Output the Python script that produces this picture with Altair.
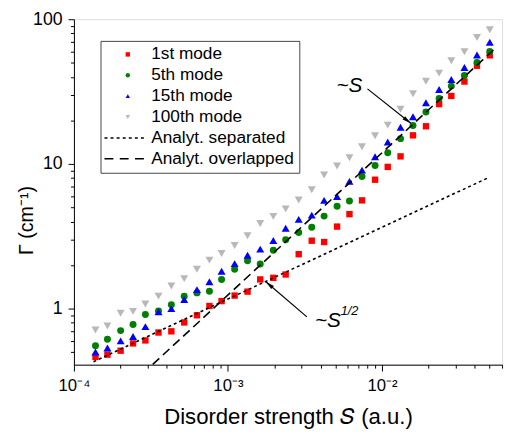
import altair as alt
import pandas as pd

# ---------------- data ----------------
S = [1.38e-4, 1.65e-4, 2.01e-4, 2.42e-4, 2.91e-4, 3.54e-4, 4.29e-4, 5.20e-4,
     6.29e-4, 7.58e-4, 9.09e-4, 1.105e-3, 1.34e-3, 1.62e-3, 1.97e-3, 2.37e-3,
     2.88e-3, 3.50e-3, 4.21e-3, 5.11e-3, 6.15e-3, 7.42e-3, 9.02e-3, 1.09e-2,
     1.32e-2, 1.59e-2, 1.93e-2, 2.35e-2, 2.82e-2, 3.43e-2, 4.14e-2, 5.01e-2]

mode1 = [0.464, 0.481, 0.512, 0.575, 0.603, 0.684, 0.697, 0.803, 0.900, 1.043,
         1.128, 1.231, 1.311, 1.592, 1.633, 1.722, 2.378, 2.948, 2.887, 3.69,
         4.50, 5.60, 7.78, 9.54, 11.28, 15.76, 18.21, 25.9, 29.5, 37.1, 47.7, 56.3]
mode5 = [0.554, 0.615, 0.705, 0.778, 0.910, 0.965, 1.065, 1.220, 1.285, 1.319,
         1.592, 1.871, 2.145, 2.033, 2.532, 2.994, 3.357, 3.653, 4.36, 5.10,
         5.54, 8.19, 9.74, 11.94, 14.96, 18.41, 22.84, 28.3, 34.5, 40.8, 50.2, 59.9]
mode15 = [0.502, 0.534, 0.599, 0.642, 0.751, 0.950, 1.0, 1.157, 1.353, 1.533,
          1.813, 2.047, 2.342, 2.579, 2.961, 3.597, 4.14, 4.43, 5.60, 5.96,
          7.58, 9.06, 11.21, 14.18, 17.93, 21.2, 26.5, 32.7, 38.3, 46.4, 56.6, 69.4]
mode100 = [0.712, 0.758, 0.929, 0.958, 1.076, 1.220, 1.434, 1.613, 1.871, 2.165,
           2.404, 2.733, 3.19, 3.88, 4.34, 4.89, 5.64, 6.63, 8.39, 9.69,
           11.04, 13.15, 15.68, 18.54, 23.85, 30.55, 37.3, 42.4, 51.6, 59.6, 74.7, 84.6]

series_names = ["1st mode", "5th mode", "15th mode", "100th mode",
                "Analyt. separated", "Analyt. overlapped"]

# analytical curves (end points of straight lines in log-log)
sep_S = [1.34e-4, 0.0495]
sep_G = [0.43, 8.07]
ovl_S = [3.25e-4, 0.0533]
ovl_G = [0.412, 61.8]

# annotations
arrow_id = ["a", "a", "b", "b"]
arrow_S = [8.05e-3, 1.539e-2, 3.254e-3, 1.762e-3]
arrow_G = [33.0, 19.1, 0.878, 1.534]
head_S = [1.539e-2, 1.762e-3]
head_G = [19.1, 1.534]
head_angle = [128.5, 310.5]

label_big_S = [5.06e-3, 3.677e-3]
label_big_G = [31.4, 0.751]
label_big_text = ["~S", "~S"]
label_sup_S = [5.39e-3]
label_sup_G = [0.910]
label_sup_text = ["1/2"]

# ---------------- styling ----------------
FONT = "Liberation Sans"
colors = ["#ff0000", "#008000", "#0000ff", "#b8b8b8", "#000000", "#000000"]


def bars_path(starts, length, half_h=0.34):
    return " ".join(
        f"M{x:.2f},{-half_h:.2f}h{length:.2f}v{2 * half_h:.2f}h{-length:.2f}Z"
        for x in starts)


dotted_path = bars_path([-10.6 + k * 2.76 for k in range(7)], 1.34)
dashed_path = bars_path([-10.6, -3.66, 3.28], 4.02)
shapes = ["square", "circle", "triangle-up", "triangle-down", dotted_path, dashed_path]
arrow_head = "M0,0L0.7,3L-0.7,3Z"

color_scale = alt.Scale(domain=series_names, range=colors)
shape_scale = alt.Scale(domain=series_names, range=shapes)

legend = alt.Legend(orient="none", legendX=27, legendY=22, title=None,
                    symbolSize=20, symbolStrokeWidth=0, labelFont=FONT,
                    labelFontSize=17.5, labelColor="black", padding=5,
                    rowPadding=2.2, symbolOffset=14, labelOffset=15,
                    strokeColor="#444444", fillColor="white", labelLimit=400)

x_ticks = [k * 10.0 ** e for e in (-4, -3, -2) for k in range(1, 10) if k * 10.0 ** e <= 0.0602]
y_ticks = [k * 10.0 ** e for e in (-1, 0, 1) for k in range(1, 10) if k * 10.0 ** e >= 0.41] + [100]

x_major = ("abs(datum.value-0.0001)<1e-9 || abs(datum.value-0.001)<1e-8 || "
           "abs(datum.value-0.01)<1e-7")
y_major = "abs(datum.value-1)<1e-6 || abs(datum.value-10)<1e-5 || abs(datum.value-100)<1e-4"

x_enc = alt.X("S:Q",
              scale=alt.Scale(type="log", domain=[1e-4, 0.0602], nice=False),
              axis=alt.Axis(values=x_ticks, grid=False, labelOverlap=False, labelFlush=False,
                            labelExpr=("abs(datum.value-0.0001)<1e-9 ? '10⁻⁴' : "
                                       "abs(datum.value-0.001)<1e-8 ? '10⁻³' : "
                                       "abs(datum.value-0.01)<1e-7 ? '10⁻²' : ''"),
                            tickSize={"condition": {"test": x_major, "value": 6.5}, "value": 3.5},
                            tickColor="black", domainColor="black", tickWidth=1, domainWidth=1,
                            labelFont=FONT, labelFontSize=17, labelColor="black",
                            labelPadding=7,
                            title="Disorder strength 𝑆 (a.u.)", titleFont=FONT,
                            titleFontSize=22.5, titleFontWeight="normal", titleColor="black",
                            titleY=59.5, titleBaseline="alphabetic"))
y_enc = alt.Y("G:Q",
              scale=alt.Scale(type="log", domain=[0.41, 100], nice=False),
              axis=alt.Axis(values=y_ticks, grid=False, labelOverlap=False, labelFlush=False,
                            labelExpr=("abs(datum.value-1)<1e-6 ? '1' : "
                                       "abs(datum.value-10)<1e-5 ? '10' : "
                                       "abs(datum.value-100)<1e-4 ? '100' : ''"),
                            tickSize={"condition": {"test": y_major, "value": 6}, "value": 3.5},
                            tickColor="black", domainColor="black", tickWidth=1, domainWidth=1,
                            labelFont=FONT, labelFontSize=18, labelColor="black",
                            labelPadding=6,
                            title="Γ (cm⁻¹)", titleFont=FONT, titleFontSize=20,
                            titleFontWeight="normal", titleColor="black",
                            titleX=-48, titleY=204, titleAngle=270,
                            titleAlign="center", titleBaseline="middle"))


def point_layer(values, name, size):
    df = pd.DataFrame({"S": S, "G": values, "series": name})
    return alt.Chart(df).mark_point(filled=True, size=size, opacity=1).encode(
        x=x_enc, y=y_enc,
        color=alt.Color("series:N", scale=color_scale, legend=legend),
        shape=alt.Shape("series:N", scale=shape_scale, legend=legend),
    )


p1 = point_layer(mode1, series_names[0], 42)
p5 = point_layer(mode5, series_names[1], 50)
p15 = point_layer(mode15, series_names[2], 66)
p100 = point_layer(mode100, series_names[3], 66)

sep = alt.Chart(pd.DataFrame({"S": sep_S, "G": sep_G})).mark_line(
    color="black", strokeWidth=1.6, strokeDash=[3, 3]).encode(x=x_enc, y=y_enc)
ovl = alt.Chart(pd.DataFrame({"S": ovl_S, "G": ovl_G})).mark_line(
    color="black", strokeWidth=1.6, strokeDash=[9, 5]).encode(x=x_enc, y=y_enc)

arrows = alt.Chart(pd.DataFrame({"S": arrow_S, "G": arrow_G, "id": arrow_id})).mark_line(
    color="black", strokeWidth=1.2).encode(x=x_enc, y=y_enc, detail="id:N")
heads = alt.Chart(pd.DataFrame({"S": head_S, "G": head_G, "ang": head_angle})).mark_point(
    filled=True, shape=arrow_head, size=36, color="black", opacity=1).encode(
    x=x_enc, y=y_enc, angle=alt.Angle("ang:Q", scale=None))

big_txt = alt.Chart(pd.DataFrame({"S": label_big_S, "G": label_big_G, "t": label_big_text})).mark_text(
    align="left", baseline="alphabetic", font=FONT, fontSize=21, fontStyle="italic",
    color="black").encode(x=x_enc, y=y_enc, text="t:N")
sup_txt = alt.Chart(pd.DataFrame({"S": label_sup_S, "G": label_sup_G, "t": label_sup_text})).mark_text(
    align="left", baseline="alphabetic", font=FONT, fontSize=13, fontStyle="italic",
    color="black").encode(x=x_enc, y=y_enc, text="t:N")

chart = alt.layer(p1, p5, p15, p100, sep, ovl, arrows, heads, big_txt, sup_txt).properties(
    width=435, height=351,
    autosize=alt.AutoSizeParams(type="none"),
    padding={"left": 67, "top": 8, "right": 3, "bottom": 66},
    background="white",
).configure_view(strokeWidth=0).configure(font=FONT)

chart.save("out.html", embed_options={"renderer": "svg", "actions": False})
